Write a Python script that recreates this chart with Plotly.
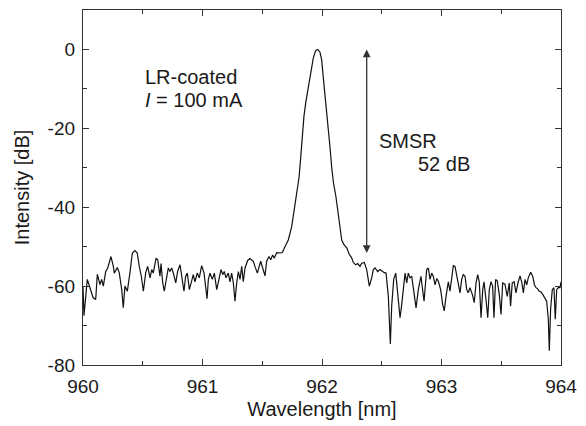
import plotly.graph_objects as go

wavelength_nm = [
    960.000, 960.008, 960.036, 960.084, 960.106, 960.120, 960.142, 960.156, 960.170, 960.190,
    960.207, 960.234, 960.254, 960.262, 960.287, 960.304, 960.324, 960.337, 960.351, 960.371,
    960.393, 960.413, 960.435, 960.454, 960.471, 960.488, 960.505, 960.525, 960.541, 960.561,
    960.575, 960.588, 960.611, 960.625, 960.644, 960.653, 960.667, 960.680, 960.714, 960.728,
    960.742, 960.756, 960.776, 960.792, 960.812, 960.826, 960.845, 960.859, 960.873, 960.890,
    960.904, 960.923, 960.937, 960.956, 960.973, 960.993, 961.013, 961.027, 961.038, 961.049,
    961.063, 961.082, 961.099, 961.119, 961.138, 961.155, 961.169, 961.182, 961.197, 961.216,
    961.230, 961.244, 961.258, 961.272, 961.286, 961.300, 961.314, 961.328, 961.341, 961.356,
    961.378, 961.397, 961.417, 961.425, 961.439, 961.459, 961.487, 961.504, 961.523, 961.537,
    961.556, 961.571, 961.587, 961.601, 961.621, 961.649, 961.668, 961.690, 961.718, 961.746,
    961.766, 961.788, 961.808, 961.822, 961.835, 961.849, 961.866, 961.885, 961.908, 961.927,
    961.947, 961.964, 961.983, 961.997, 962.011, 962.031, 962.053, 962.067, 962.081, 962.095,
    962.117, 962.131, 962.145, 962.165, 962.184, 962.207, 962.226, 962.249, 962.262, 962.282,
    962.299, 962.318, 962.332, 962.354, 962.374, 962.396, 962.416, 962.429, 962.444, 962.466,
    962.485, 962.505, 962.521, 962.536, 962.555, 962.572, 962.583, 962.600, 962.617, 962.633,
    962.653, 962.667, 962.680, 962.695, 962.709, 962.722, 962.736, 962.751, 962.770, 962.787,
    962.806, 962.828, 962.854, 962.876, 962.890, 962.904, 962.918, 962.931, 962.946, 962.960,
    962.973, 962.993, 963.010, 963.023, 963.038, 963.057, 963.071, 963.085, 963.099, 963.113,
    963.127, 963.141, 963.155, 963.169, 963.182, 963.197, 963.211, 963.224, 963.238, 963.258,
    963.274, 963.289, 963.303, 963.316, 963.331, 963.345, 963.356, 963.372, 963.387, 963.400,
    963.414, 963.428, 963.439, 963.453, 963.467, 963.484, 963.498, 963.512, 963.531, 963.550,
    963.567, 963.578, 963.592, 963.608, 963.623, 963.642, 963.657, 963.671, 963.685, 963.699,
    963.713, 963.726, 963.746, 963.763, 963.778, 963.791, 963.805, 963.818, 963.833, 963.847,
    963.861, 963.880, 963.894, 963.902, 963.913, 963.927, 963.941, 963.952, 963.964, 963.977,
    963.992, 964.000,
]

intensity_db = [
    -60.0, -67.5, -58.3, -62.9, -63.4, -57.0, -59.6, -58.3, -60.0, -56.3,
    -55.4, -52.5, -55.0, -56.7, -55.3, -56.7, -60.9, -65.5, -60.0, -61.3,
    -56.6, -51.6, -51.0, -51.6, -55.0, -57.5, -61.3, -56.6, -55.0, -57.9,
    -55.8, -56.7, -53.0, -53.3, -57.5, -54.3, -59.2, -61.3, -55.4, -56.3,
    -55.4, -56.7, -59.2, -56.3, -54.6, -57.1, -61.3, -57.5, -56.7, -60.9,
    -58.9, -57.1, -58.9, -56.7, -57.9, -54.8, -56.7, -59.7, -63.2, -58.3,
    -56.7, -58.3, -56.7, -60.9, -57.9, -55.8, -57.1, -56.3, -57.9, -56.7,
    -58.9, -56.7, -59.2, -63.8, -59.2, -56.3, -58.3, -55.0, -58.9, -55.4,
    -53.5, -53.0, -53.5, -53.7, -55.0, -56.7, -53.7, -55.8, -57.4, -53.7,
    -52.5, -53.3, -52.1, -52.9, -51.5, -51.6, -51.5, -50.0, -48.3, -45.0,
    -40.8, -36.6, -32.4, -27.3, -21.5, -16.9, -13.1, -9.7, -5.5, -2.2,
    -0.3, 0.0, -0.7, -2.6, -7.2, -13.1, -19.8, -24.8, -29.9, -33.6,
    -37.4, -40.8, -44.5, -48.3, -49.5, -50.3, -51.8, -52.9, -54.0, -54.6,
    -54.3, -55.0, -54.2, -54.0, -55.8, -60.0, -57.9, -55.8, -55.4, -56.3,
    -55.8, -56.3, -56.6, -56.7, -62.6, -74.7, -65.1, -58.3, -56.7, -61.7,
    -68.0, -64.7, -60.9, -56.7, -59.2, -56.7, -57.9, -57.5, -61.7, -65.5,
    -60.9, -57.5, -63.8, -55.8, -55.4, -58.3, -56.7, -57.5, -59.7, -58.1,
    -58.7, -60.9, -64.7, -66.3, -62.6, -58.9, -61.3, -57.5, -54.8, -55.0,
    -57.1, -60.0, -61.7, -58.3, -57.1, -57.5, -60.9, -61.7, -60.4, -62.1,
    -64.2, -59.2, -57.1, -58.9, -68.0, -60.9, -58.9, -63.4, -68.0, -60.9,
    -58.9, -60.0, -68.0, -58.3, -58.7, -62.3, -67.2, -59.2, -59.5, -62.6,
    -59.2, -65.1, -59.2, -58.9, -61.7, -58.9, -57.4, -58.9, -61.7, -58.3,
    -59.7, -57.9, -56.5, -57.5, -59.7, -60.4, -60.7, -61.3, -61.5, -62.1,
    -63.0, -63.8, -68.4, -76.4, -65.9, -60.9, -60.4, -68.4, -60.9, -60.4,
    -60.4, -58.9,
]

x_ticks = [960, 961, 962, 963, 964]
y_ticks = [0, -20, -40, -60, -80]

smsr_wavelength = 962.374
smsr_top_db = 0
smsr_bottom_db = -52

FONT = "Liberation Sans, Arial, Helvetica, sans-serif"
AX = "#333333"
TXT = "#1a1a1a"

fig = go.Figure()
fig.add_trace(go.Scatter(
    x=wavelength_nm, y=intensity_db, mode="lines",
    line=dict(color="#111111", width=1.2), showlegend=False, hoverinfo="skip",
))

fig.add_annotation(
    x=smsr_wavelength, y=smsr_top_db, ax=smsr_wavelength, ay=smsr_bottom_db,
    xref="x", yref="y", axref="x", ayref="y", text="",
    showarrow=True, arrowhead=2, startarrowhead=2, arrowside="end+start",
    arrowsize=1.2, arrowwidth=1.3, arrowcolor=AX, standoff=0, startstandoff=0,
)

ann_font = dict(family=FONT, size=20, color=TXT)
fig.add_annotation(x=960.50, y=-7.0, text="LR-coated", showarrow=False,
                   xanchor="left", yanchor="middle", font=ann_font)
fig.add_annotation(x=960.50, y=-12.9, text="<i>I</i> = 100 mA", showarrow=False,
                   xanchor="left", yanchor="middle", font=ann_font)
fig.add_annotation(x=962.46, y=-23.1, text="SMSR", showarrow=False,
                   xanchor="left", yanchor="middle", font=ann_font)
fig.add_annotation(x=962.79, y=-29.0, text="52 dB", showarrow=False,
                   xanchor="left", yanchor="middle", font=ann_font)

axis_common = dict(
    showline=True, linecolor=AX, linewidth=1.3, mirror="ticks",
    ticks="inside", ticklen=6, tickwidth=1, tickcolor=AX,
    showgrid=False, zeroline=False,
    tickfont=dict(family=FONT, size=19, color=TXT),
)

fig.update_xaxes(
    range=[960, 964], tickvals=x_ticks, ticktext=[str(v) for v in x_ticks],
    minor=dict(dtick=0.5, ticks="inside", ticklen=4, tickcolor=AX, showgrid=False),
    ticklabelstandoff=4,
    title=dict(text="Wavelength [nm]", font=dict(family=FONT, size=20, color=TXT), standoff=6),
    **axis_common,
)
fig.update_yaxes(
    range=[-80, 10], tickvals=y_ticks, ticktext=[str(v) for v in y_ticks],
    minor=dict(dtick=10, ticks="inside", ticklen=4, tickcolor=AX, showgrid=False),
    ticklabelstandoff=3,
    title=dict(text="Intensity [dB]", font=dict(family=FONT, size=20, color=TXT), standoff=12),
    **axis_common,
)

fig.update_layout(
    width=586, height=426,
    margin=dict(l=83, r=25, t=9, b=60),
    plot_bgcolor="white", paper_bgcolor="white",
)

fig.write_html(
    "out.html",
    config={"displayModeBar": False},
    post_script="document.body.style.margin='0';document.body.style.overflow='hidden';",
)
